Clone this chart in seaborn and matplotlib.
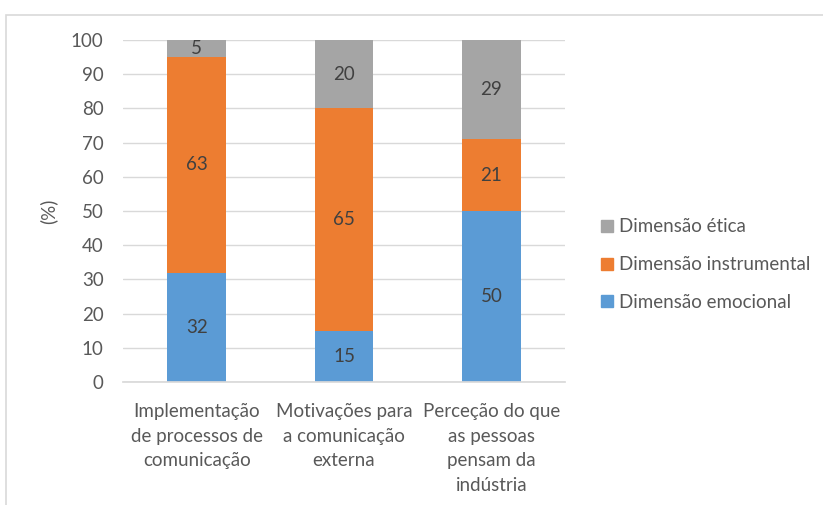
import pandas as pd
import matplotlib.pyplot as plt
import seaborn as sns
from matplotlib.patches import Rectangle
from matplotlib.lines import Line2D

# Dados do gráfico
categorias = ['Implementação\nde processos de\ncomunicação',
              'Motivações para\na comunicação\nexterna',
              'Perceção do que\nas pessoas\npensam da\nindústria']
emocional = [32, 15, 50]
instrumental = [63, 65, 21]
etica = [5, 20, 29]

series = ['Dimensão emocional', 'Dimensão instrumental', 'Dimensão ética']
cores = ['#5B9BD5', '#ED7D31', '#A5A5A5']
texto = '#595959'

df = pd.DataFrame({'Categoria': categorias,
                   'Dimensão emocional': emocional,
                   'Dimensão instrumental': instrumental,
                   'Dimensão ética': etica})
df['base_instr'] = df['Dimensão emocional']
df['base_etica'] = df['Dimensão emocional'] + df['Dimensão instrumental']
df['topo'] = df['base_etica'] + df['Dimensão ética']

sns.set_theme(style='white')
plt.rcParams['font.family'] = ['Lato', 'DejaVu Sans']
fs = 13.5

fig = plt.figure(figsize=(8.23, 5.05), dpi=100)
ax = fig.add_axes([0.1495, 0.2436, 0.537, 0.677])

# Barras empilhadas: desenhar a soma acumulada, do topo para a base
for col, cor in [('topo', cores[2]), ('base_etica', cores[1]), ('Dimensão emocional', cores[0])]:
    sns.barplot(data=df, x='Categoria', y=col, color=cor, width=0.4,
                saturation=1, linewidth=0, ax=ax, zorder=2)

# Rótulos de dados
for i in range(len(categorias)):
    for val, base in [(emocional[i], 0), (instrumental[i], df['base_instr'][i]),
                      (etica[i], df['base_etica'][i])]:
        ax.text(i, base + val / 2, str(val), ha='center', va='center',
                fontsize=fs, color='#404040', zorder=3)

ax.set_ylim(0, 100)
ax.set_xlim(-0.5, 2.5)
ax.set_yticks(range(0, 101, 10))
ax.yaxis.grid(True, color='#D9D9D9', linewidth=1, zorder=0)
ax.set_axisbelow(True)
for s in ['top', 'right', 'left']:
    ax.spines[s].set_visible(False)
ax.spines['bottom'].set_color('#D9D9D9')
ax.tick_params(axis='both', length=0, labelsize=fs, colors=texto)
ax.tick_params(axis='y', pad=14)

# Rótulos das categorias (com espaçamento entre linhas maior)
ax.set_xticks(range(len(categorias)))
ax.set_xticklabels([''] * len(categorias))
for i, cat in enumerate(categorias):
    ax.annotate(cat, xy=(i, 0), xycoords=('data', 'axes fraction'),
                xytext=(0, -15), textcoords='offset points', ha='center', va='top',
                fontsize=fs, color=texto, linespacing=1.55)
ax.set_xlabel('')
ax.set_ylabel('(%)', fontsize=fs, color=texto, labelpad=10)

# Legenda
handles = [Line2D([], [], marker='s', linestyle='', markersize=8,
                  markerfacecolor=c, markeredgecolor=c) for c in cores[::-1]]
fig.legend(handles, series[::-1], loc='center left', bbox_to_anchor=(0.706, 0.476),
           frameon=False, fontsize=fs, labelcolor=texto, handletextpad=0.1,
           labelspacing=1.1, handlelength=1.0)

# Moldura do gráfico
fig.patches.append(Rectangle((0.0075, -0.1), 1.1, 1.07, transform=fig.transFigure,
                             fill=False, edgecolor='#D9D9D9', linewidth=1.2))

fig.savefig('out.png', dpi=100)
